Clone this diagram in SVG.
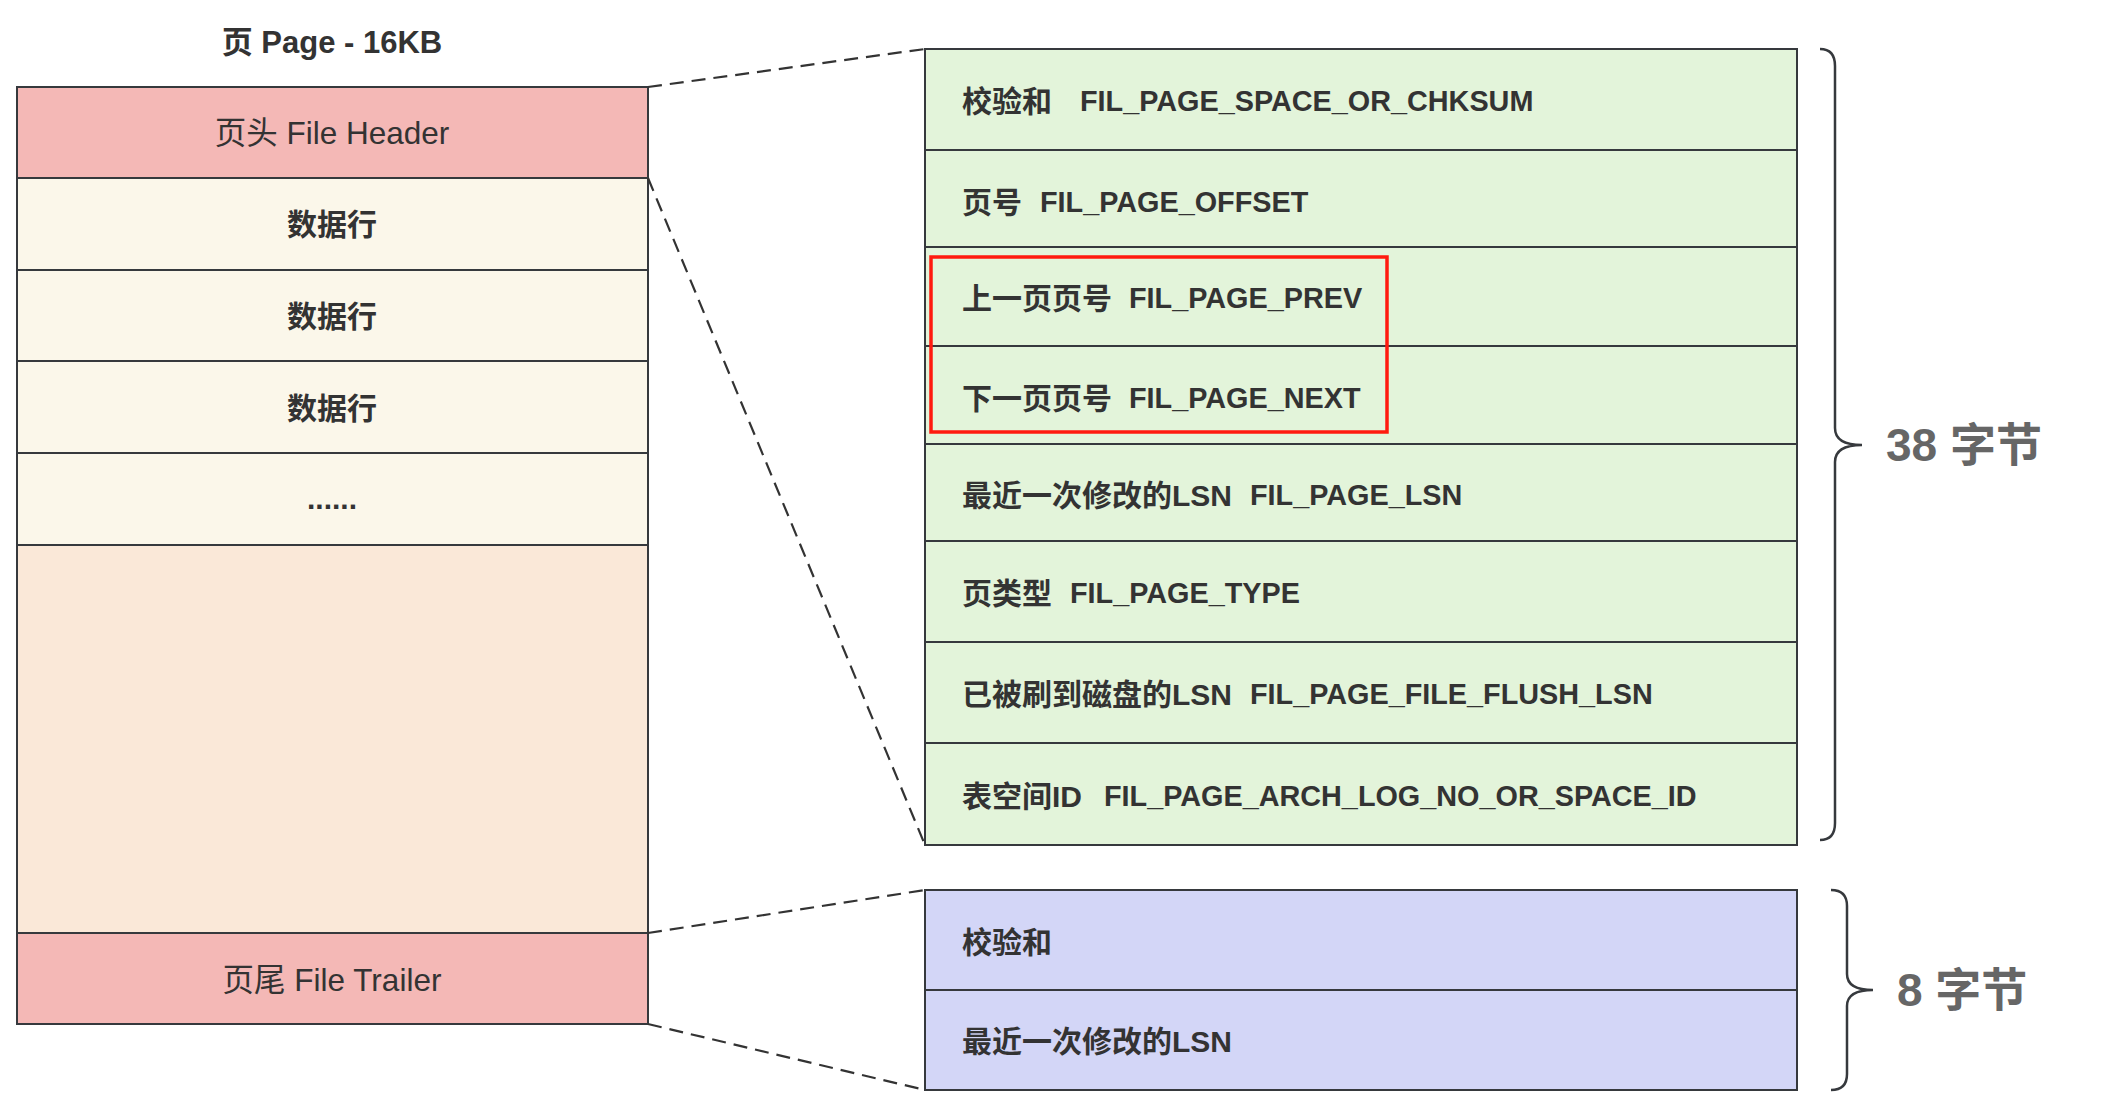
<svg xmlns="http://www.w3.org/2000/svg" width="2108" height="1118" viewBox="0 0 2108 1118">
<style>
text{font-family:"Liberation Sans","Noto Sans CJK SC",sans-serif;fill:#333;dominant-baseline:central}
.box{stroke:#36393d;stroke-width:2}
.hdr{fill:#f4b8b6}
.row{fill:#fbf7ea}
.free{fill:#fae8d8}
.grn{fill:#e3f4da}
.blu{fill:#d3d6f7}
.c{text-anchor:middle}
.b{font-weight:bold}
.t{font-size:30px;font-weight:bold}
.f{font-size:28.8px;font-weight:bold}
.lbl{font-size:31.5px}
.dash{fill:none;stroke:#333;stroke-width:2.2;stroke-dasharray:14 8}
.brace{fill:none;stroke:#36393d;stroke-width:2.5}
.big{font-size:46px;font-weight:bold;fill:#666}
</style>
<rect width="2108" height="1118" fill="#fff"/>
<text id="title" class="c b" x="332" y="42" font-size="31">页 Page - 16KB</text>
<g id="page">
<g id="fileHeader"><rect class="box hdr" x="17" y="87" width="631" height="91"/><text class="c lbl" x="332" y="133">页头 File Header</text></g>
<g id="row1"><rect class="box row" x="17" y="178" width="631" height="92"/><text class="c t" x="332" y="224">数据行</text></g>
<g id="row2"><rect class="box row" x="17" y="270" width="631" height="91"/><text class="c t" x="332" y="316">数据行</text></g>
<g id="row3"><rect class="box row" x="17" y="361" width="631" height="92"/><text class="c t" x="332" y="408">数据行</text></g>
<g id="rowMore"><rect class="box row" x="17" y="453" width="631" height="92"/><text class="c t" x="332" y="498">......</text></g>
<g id="freeSpace"><rect class="box free" x="17" y="545" width="631" height="388"/></g>
<g id="fileTrailer"><rect class="box hdr" x="17" y="933" width="631" height="91"/><text class="c lbl" x="332" y="980">页尾 File Trailer</text></g>
</g>
<g id="connectors">
<path class="dash" d="M648,87 L925,49"/>
<path class="dash" d="M648,178 L925,845"/>
<path class="dash" d="M648,933 L925,890"/>
<path class="dash" d="M648,1024 L925,1090"/>
</g>
<g id="header-fields">
<g id="f1"><rect class="box grn" x="925" y="49" width="872" height="101"/><text class="t" x="962" y="101">校验和</text><text class="f" x="1080" y="101">FIL_PAGE_SPACE_OR_CHKSUM</text></g>
<g id="f2"><rect class="box grn" x="925" y="150" width="872" height="97"/><text class="t" x="962" y="202">页号</text><text class="f" x="1040" y="202">FIL_PAGE_OFFSET</text></g>
<g id="f3"><rect class="box grn" x="925" y="247" width="872" height="99"/><text class="t" x="962" y="298">上一页页号</text><text class="f" x="1129" y="298">FIL_PAGE_PREV</text></g>
<g id="f4"><rect class="box grn" x="925" y="346" width="872" height="98"/><text class="t" x="962" y="398">下一页页号</text><text class="f" x="1129" y="398">FIL_PAGE_NEXT</text></g>
<g id="f5"><rect class="box grn" x="925" y="444" width="872" height="97"/><text class="t" x="962" y="495">最近一次修改的LSN</text><text class="f" x="1250" y="495">FIL_PAGE_LSN</text></g>
<g id="f6"><rect class="box grn" x="925" y="541" width="872" height="101"/><text class="t" x="962" y="593">页类型</text><text class="f" x="1070" y="593">FIL_PAGE_TYPE</text></g>
<g id="f7"><rect class="box grn" x="925" y="642" width="872" height="101"/><text class="t" x="962" y="694">已被刷到磁盘的LSN</text><text class="f" x="1250" y="694">FIL_PAGE_FILE_FLUSH_LSN</text></g>
<g id="f8"><rect class="box grn" x="925" y="743" width="872" height="102"/><text class="t" x="962" y="796">表空间ID</text><text class="f" x="1104" y="796">FIL_PAGE_ARCH_LOG_NO_OR_SPACE_ID</text></g>
</g>
<rect id="highlight" x="931" y="257" width="456" height="175" fill="none" stroke="#ff1a0f" stroke-width="3.5"/>
<g id="trailer-fields">
<g id="t1"><rect class="box blu" x="925" y="890" width="872" height="100"/><text class="t" x="962" y="942">校验和</text></g>
<g id="t2"><rect class="box blu" x="925" y="990" width="872" height="100"/><text class="t" x="962" y="1041">最近一次修改的LSN</text></g>
</g>
<g id="brace38">
<path class="brace" d="M1820,49 Q1835,49 1835,66 L1835,428 Q1835,445 1862,445 Q1835,445 1835,462 L1835,823 Q1835,840 1820,840"/>
<text class="big" x="1886" y="445">38 字节</text>
</g>
<g id="brace8">
<path class="brace" d="M1831,890 Q1847,890 1847,906 L1847,974 Q1847,990 1873,990 Q1847,990 1847,1006 L1847,1074 Q1847,1090 1831,1090"/>
<text class="big" x="1897" y="990">8 字节</text>
</g>
</svg>
